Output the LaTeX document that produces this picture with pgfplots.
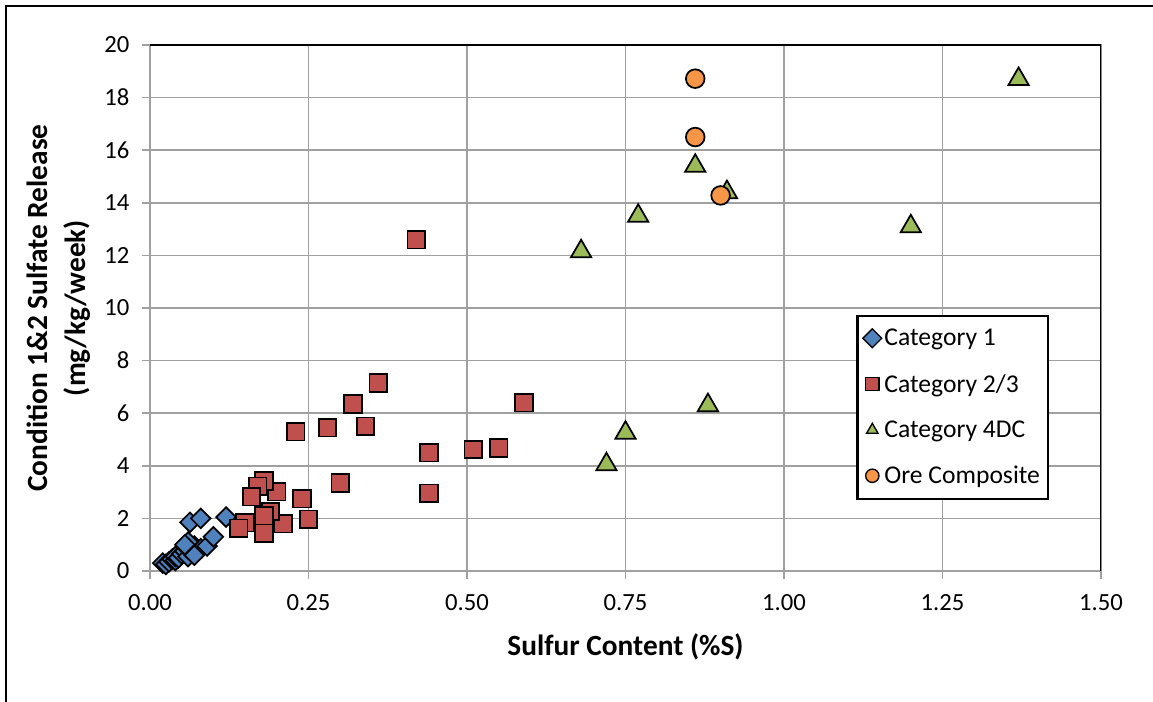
\documentclass[border=0pt]{standalone}
\usepackage{pgfplots}
\pgfplotsset{compat=1.18}
\usepackage{fontspec}
\setmainfont{Carlito}
\definecolor{c1}{HTML}{4F81BD}
\definecolor{c2}{HTML}{C0504D}
\definecolor{c3}{HTML}{9BBB59}
\definecolor{c4}{HTML}{F79646}
\definecolor{gridc}{RGB}{160,160,160}
\begin{document}
\begin{tikzpicture}
\useasboundingbox (0pt,0pt) rectangle (864.75pt,526.5pt);
\draw[line width=1.5pt,black] (4.5pt,0pt) -- (4.5pt,522pt) -- (864.75pt,522pt);
\begin{axis}[
  at={(112.5pt,98.25pt)}, anchor=origin,
  scale only axis, width=713.25pt, height=394.5pt,
  xmin=0, xmax=1.5, ymin=0, ymax=20,
  xtick={0,0.25,...,1.5}, ytick={0,2,...,20},
  /pgf/number format/assume math mode=true,
  ticklabel style={font=\fontsize{18.5}{21}\selectfont},
  yticklabel style={xshift=-6pt},
  xticklabel style={yshift=-8pt, /pgf/number format/.cd,fixed,fixed zerofill,precision=2},
  grid=major,
  major grid style={gridc, line width=1.2pt},
  axis line style={gridc, line width=1.2pt},
  tick style={gridc, line width=1.2pt},
  tick align=outside, major tick length=6pt,
  xtick pos=bottom, ytick pos=left,
  xlabel={Sulfur Content (\%S)},
  ylabel={Condition 1\&2 Sulfate Release\\(mg/kg/week)},
  label style={font=\fontsize{22}{28.5}\selectfont\bfseries},
  xlabel style={at={(rel axis cs:0.5,-0.1445)}, anchor=center},
  ylabel style={at={(rel axis cs:-0.0957,0.5)}, anchor=center, align=center},
  legend style={at={(axis cs:1.418,2.7)}, anchor=south east,
    draw=black, line width=1.6pt, font=\fontsize{19.2}{22}\selectfont,
    row sep=16pt, inner xsep=4pt, inner ysep=8pt, legend cell align=left},
  legend image code/.code={\draw[#1,mark size=5pt,line width=1pt] plot coordinates {(0.15cm,0cm)};},
  every axis plot/.append style={line width=1.3pt},
]
\addplot[only marks, mark=square*, mark size=5.2pt, mark options={fill=c1,draw=black,rotate=45}] coordinates {
(0.020,0.30)(0.025,0.25)(0.030,0.35)(0.035,0.45)(0.040,0.40)(0.040,0.55)
(0.045,0.50)(0.050,0.65)(0.055,0.75)(0.060,0.55)(0.060,0.85)(0.065,0.80)
(0.070,0.95)(0.075,0.75)(0.080,0.85)(0.090,0.95)(0.100,1.30)(0.060,1.10)
(0.063,1.85)(0.080,2.00)(0.120,2.05)(0.055,1.00)(0.070,0.60)
};
\addlegendentry{Category 1}
\addplot[only marks, mark=square*, mark size=6.6pt, mark options={fill=c2,draw=black}] coordinates {
(0.42,12.60)(0.36,7.15)(0.32,6.35)(0.59,6.40)(0.23,5.30)(0.28,5.45)
(0.34,5.50)(0.44,4.50)(0.51,4.62)(0.55,4.68)(0.44,2.95)(0.30,3.35)
(0.24,2.75)(0.25,1.97)(0.21,1.80)(0.18,1.45)(0.19,2.26)(0.20,3.02)
(0.18,3.42)(0.17,3.22)(0.16,2.82)(0.15,1.84)(0.14,1.62)(0.18,2.10)
};
\addlegendentry{Category 2/3}
\addplot[only marks, mark=triangle*, mark size=8.8pt, mark options={fill=c3,draw=black}] coordinates {
(0.68,12.15)(0.77,13.50)(0.86,15.40)(0.91,14.40)(1.37,18.70)(1.20,13.10)
(0.88,6.30)(0.75,5.25)(0.72,4.05)
};
\addlegendentry{Category 4DC}
\addplot[only marks, mark=*, mark size=7pt, mark options={fill=c4,draw=black}] coordinates {
(0.86,18.72)(0.86,16.50)(0.90,14.28)
};
\addlegendentry{Ore Composite}
\draw[black, line width=1.4pt] (rel axis cs:0,1) -- (rel axis cs:1,1) -- (rel axis cs:1,0);
\end{axis}
\end{tikzpicture}
\end{document}
